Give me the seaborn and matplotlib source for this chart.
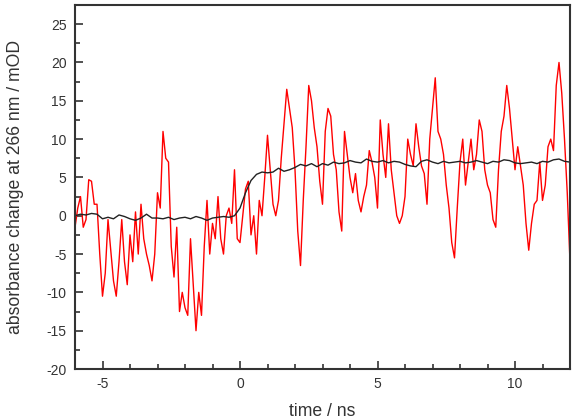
import numpy as np
import pandas as pd
import matplotlib
matplotlib.use("Agg")
import matplotlib.pyplot as plt
from matplotlib.ticker import MultipleLocator
import seaborn as sns

# time grids (ns)
t_red = np.round(np.arange(-6.0, 12.0001, 0.1), 2)
t_black = np.round(np.arange(-6.0, 12.0001, 0.2), 2)

# noisy trace (mOD)
red_vals = [
    -1.5, 1.0, 2.5, -1.5, -0.5, 4.7, 4.5, 1.5, 1.5, -5,
    -10.5, -7.5, -0.5, -4.5, -8.5, -10.5, -6, -0.5, -6, -9,
    -2.5, -6, 0.5, -5, 1.5, -3, -5, -6.5, -8.5, -5,
    3, 1, 11, 7.5, 7, -4, -8, -1.5, -12.5, -10,
    -12, -13, -3, -9, -15, -10, -13, -4, 2, -5,
    -1, -3, 2.5, -3, -5, 0, 1, -1, 6, -3,
    -3.5, 0, 3.5, 4.5, -2.5, 0, -5, 2, 0, 5,
    10.5, 6, 1.5, 0, 2, 7.5, 12, 16.5, 14, 11.5,
    6, -2, -6.5, 2, 9, 17, 15, 11.5, 9, 4.5,
    1.5, 11, 14, 13, 8, 6, 0.5, -2, 11, 8,
    5, 3, 5.5, 2, 0.5, 2.5, 4, 8.5, 7, 5,
    1, 12.5, 8, 5, 12, 6, 3, 0, -1, 0,
    2.5, 10, 8, 6.5, 12, 9, 6.5, 5.5, 1.5, 10,
    14, 18, 11, 10, 8, 4, 1, -3.5, -5.5, 1,
    7, 10, 4, 7, 10, 6, 8, 12.5, 11, 6,
    4, 3, -0.5, -1.5, 6, 11, 13, 17, 14, 10,
    6, 9, 6.5, 4, -1, -4.5, -1, 1.5, 2, 7,
    2, 4, 9, 10, 8.5, 17, 20, 16, 10, 3,
    -6,
]

# smooth trace (mOD)
black_vals = [
    0.0, 0.2, 0.1, 0.3, 0.2, -0.4, -0.2, -0.4, 0.1, -0.1,
    -0.4, -0.6, -0.3, 0.2, -0.3, -0.3, -0.4, -0.2, -0.5, -0.3,
    -0.2, -0.4, -0.1, -0.3, -0.6, -0.3, -0.2, -0.1, -0.2, 0.0,
    1.0, 3.0, 4.6, 5.4, 5.7, 5.6, 5.7, 6.2, 5.8, 6.0,
    6.3, 6.7, 6.5, 6.8, 6.4, 6.8, 6.6, 7.0, 6.8, 6.9,
    7.2, 7.0, 6.9, 7.4, 7.1, 7.0, 7.2, 6.9, 7.1, 7.0,
    6.7, 6.5, 6.4, 7.1, 7.3, 7.0, 6.8, 7.1, 6.9, 7.0,
    7.1, 6.9, 7.0, 7.2, 7.0, 6.8, 7.1, 7.0, 7.3, 7.2,
    6.9, 6.8, 6.9, 7.0, 6.8, 7.1, 7.0, 7.3, 7.4, 7.1,
    7.0,
]

red_df = pd.DataFrame({"time": t_red, "abs": red_vals})
black_df = pd.DataFrame({"time": t_black, "abs": black_vals})

sns.set_style("ticks")
plt.rcParams['font.family'] = ['Liberation Sans', 'DejaVu Sans']
plt.rcParams['axes.unicode_minus'] = False

fig = plt.figure(figsize=(5.73, 4.19), dpi=100)
ax = fig.add_axes([75 / 573, 50 / 419, 495 / 573, 364 / 419])

sns.lineplot(data=red_df, x="time", y="abs", color="#ff0000", linewidth=1.0, ax=ax)
sns.lineplot(data=black_df, x="time", y="abs", color="#222222", linewidth=1.0, ax=ax)

ax.set_xlim(-6, 12)
ax.set_ylim(-20, 27.5)
ax.xaxis.set_major_locator(MultipleLocator(5))
ax.xaxis.set_minor_locator(MultipleLocator(1))
ax.yaxis.set_major_locator(MultipleLocator(5))
ax.yaxis.set_minor_locator(MultipleLocator(2.5))
ax.tick_params(which="both", direction="in", colors="#333333", labelsize=10,
               top=False, right=False, pad=6)
ax.tick_params(which="major", length=6, width=1.2)
ax.tick_params(which="minor", length=3.5, width=1.2)
for s in ax.spines.values():
    s.set_linewidth(1.5)
    s.set_color("#333333")
    s.set_visible(True)

ax.set_xlabel("time / ns", fontsize=12.7, color="#333333")
ax.set_ylabel("absorbance change at 266 nm / mOD", fontsize=12.7, color="#333333")
ax.xaxis.set_label_coords(0.5, -0.093)
ax.yaxis.set_label_coords(-0.103, 0.5)

fig.savefig("out.png", dpi=100)
